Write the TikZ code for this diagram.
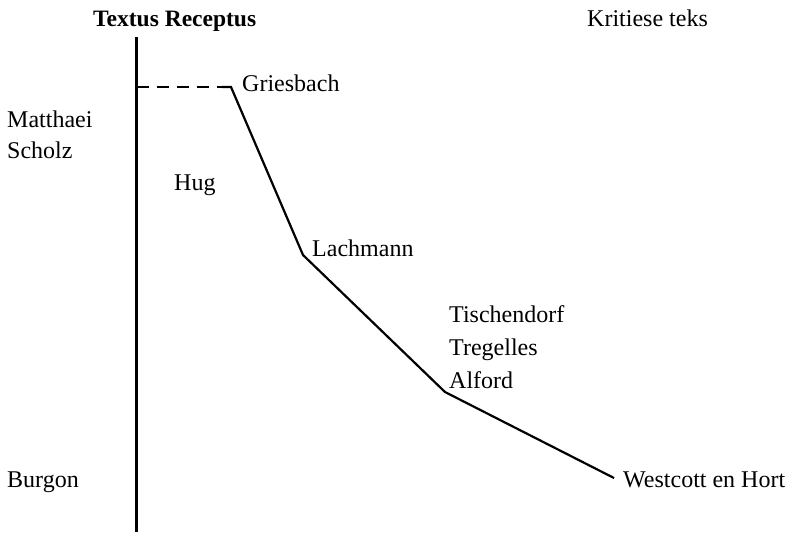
\documentclass[tikz,border=0pt]{standalone}
\usepackage{fontspec}
\setmainfont{Liberation Serif}
\begin{document}
\begin{tikzpicture}[x=1pt,y=-1pt,
  lbl/.style={anchor=base west,inner sep=0pt,font=\fontsize{24}{28}\selectfont},
  ttl/.style={lbl,font=\fontsize{23.5}{28}\selectfont\bfseries},
  axisline/.style={line width=2.4pt},
  curveline/.style={line width=2.2pt,line join=miter},
  dashline/.style={line width=2.2pt,dash pattern=on 12pt off 8pt}]
\useasboundingbox (0,0) rectangle (799,532);
% texts
\node[ttl] (tr) at (93,27) {Textus Receptus};
\node[lbl] (kt) at (587,27) {Kritiese teks};
\node[lbl] (gr) at (242,92) {Griesbach};
\node[lbl] (ma) at (7,127) {Matthaei};
\node[lbl] (sc) at (7,158) {Scholz};
\node[lbl] (hu) at (174,190) {Hug};
\node[lbl] (la) at (312,256) {Lachmann};
\node[lbl] (ti) at (449,322) {Tischendorf};
\node[lbl] (tg) at (449,355) {Tregelles};
\node[lbl] (al) at (449,388) {Alford};
\node[lbl] (we) at (623,487) {Westcott en Hort};
\node[lbl] (bu) at (7,487) {Burgon};
% coordinates
\coordinate (top) at (136.5,37);
\coordinate (bot) at (136.5,532);
\coordinate (d0) at (136.5,87);
\coordinate (d1) at (222,87);
\coordinate (g) at (231,87);
\coordinate (l) at (303,255);
\coordinate (a) at (445,392);
\coordinate (w) at (614,478);
% lines
\draw[axisline] (top) -- (bot);
\draw[dashline] (d0) -- (d1);
\draw[curveline] (d1) -- (g) -- (l) -- (a) -- (w);
\end{tikzpicture}
\end{document}
